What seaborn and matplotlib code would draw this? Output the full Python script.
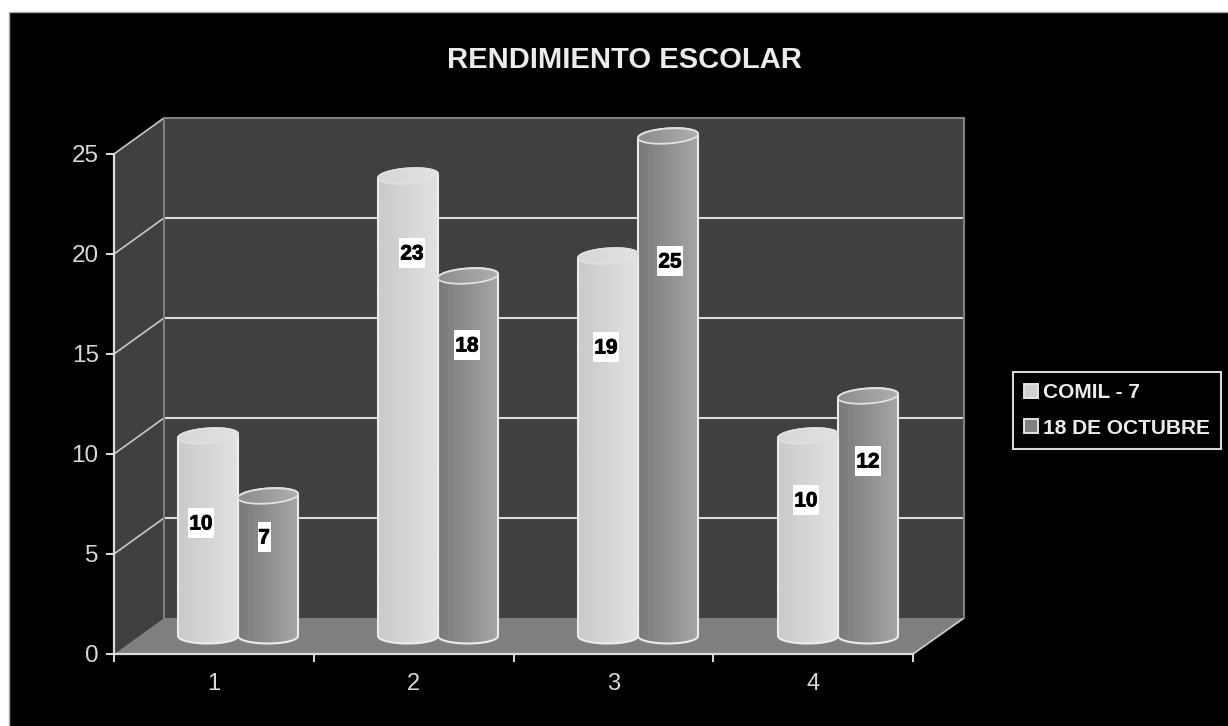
import numpy as np
import pandas as pd
import seaborn as sns
import matplotlib
matplotlib.use("Agg")
import matplotlib.pyplot as plt
import matplotlib.patheffects as pe
from matplotlib.patches import Polygon, Rectangle, Patch
from matplotlib.colors import LinearSegmentedColormap

# ---- data ----
categories = ["1", "2", "3", "4"]
comil_7 = [10, 23, 19, 10]
octubre_18 = [7, 18, 25, 12]
series_names = ["COMIL - 7", "18 DE OCTUBRE"]
title_text = "RENDIMIENTO ESCOLAR"
y_ticks = [0, 5, 10, 15, 20, 25]

# ---- layout (pixels) ----
W, H = 1228, 726
FRONT_L, FRONT_R, FRONT_B, FRONT_T = 114, 913, 654, 154
DX, DY = 50, 36
LABEL_POS = [(201, 523), (412, 253), (606, 347), (806, 500),
             (264, 537), (467, 345), (670, 261), (868, 461)]

sns.set_style("dark")
plt.rcParams["font.family"] = ["Liberation Sans", "DejaVu Sans"]

LINE = "#dcdcdc"
GREY = "#808080"
TXT = "#d8d8d8"

df = pd.DataFrame({
    "cat": categories * 2,
    "val": comil_7 + octubre_18,
    "serie": [series_names[0]] * 4 + [series_names[1]] * 4,
})

fig = plt.figure(figsize=(W / 100, H / 100), dpi=100, facecolor="white")


def box(l, r, b, t):
    return [l / W, 1 - b / H, (r - l) / W, (b - t) / H]


# background in pixel space
bg = fig.add_axes([0, 0, 1, 1], zorder=0)
bg.set_xlim(0, W)
bg.set_ylim(H, 0)
bg.axis("off")
bg.add_patch(Rectangle((9, 12), W, H, fc="black", ec="#a8a8a8", lw=1))
bg.add_patch(Polygon([(FRONT_L, FRONT_T), (FRONT_L + DX, FRONT_T - DY),
                      (FRONT_L + DX, FRONT_B - DY), (FRONT_L, FRONT_B)], fc="#404040", ec="none"))
bg.add_patch(Polygon([(FRONT_L, FRONT_B), (FRONT_R, FRONT_B),
                      (FRONT_R + DX + 1, FRONT_B - DY), (FRONT_L + DX, FRONT_B - DY)], fc="#7f7f7f", ec="none"))
unit = (FRONT_B - FRONT_T) / y_ticks[-1]
for v in y_ticks[1:]:
    y = FRONT_B - v * unit
    bg.plot([FRONT_L, FRONT_L + DX], [y, y - DY], color="#c8c8c8", lw=1.2)
bg.plot([FRONT_R, FRONT_R + DX + 1], [FRONT_B, FRONT_B - DY], color="#d0d0d0", lw=1.2)

# back wall
back = fig.add_axes(box(FRONT_L + DX, FRONT_R + DX + 1, FRONT_B - DY, FRONT_T - DY), zorder=1)
back.set_facecolor("#404040")
back.set_ylim(0, y_ticks[-1])
back.set_xlim(0, 1)
back.set_xticks([])
back.set_yticks(y_ticks[1:-1])
back.set_yticklabels([])
back.tick_params(left=False, length=0)
back.grid(axis="y", color=LINE, lw=1.5)
for name, sp in back.spines.items():
    sp.set_visible(name != "bottom")
    sp.set_color(GREY)
    sp.set_linewidth(1.5)

# front axes with the ticks
front = fig.add_axes(box(FRONT_L, FRONT_R, FRONT_B, FRONT_T), zorder=2)
front.patch.set_alpha(0)
front.set_xlim(-0.5, 3.5)
front.set_ylim(0, y_ticks[-1])
front.set_yticks(y_ticks)
front.set_xticks(range(len(categories)))
front.set_xticklabels(categories)
front.set_xticks(np.arange(-0.5, 4), minor=True)
front.tick_params(axis="y", left=True, length=6, width=1.4, color=LINE, labelcolor=TXT, labelsize=17.5, pad=5)
front.tick_params(axis="x", which="major", bottom=False, length=6, labelcolor=TXT, labelsize=17, pad=8)
front.tick_params(axis="x", which="minor", bottom=True, length=6, width=1.4, color=LINE)
front.grid(False)
for name, sp in front.spines.items():
    sp.set_visible(name in ("left", "bottom"))
    sp.set_color(LINE)
    sp.set_linewidth(1.6)

# bars, half the depth into the chart; the axes is a little taller than the value range
YLO, YHI = -1, y_ticks[-1] + 2
BASE = FRONT_B - DY / 2
bars = fig.add_axes(box(FRONT_L + DX / 2 - 1, FRONT_R + DX / 2,
                        BASE - YLO * unit, BASE - YHI * unit), zorder=3)
sns.barplot(data=df, x="cat", y="val", hue="serie", hue_order=series_names,
            palette=["#d6d6d6", "#909090"], width=0.6, gap=0, dodge=True, legend=False, ax=bars)
bars.axis("off")

RAMPS = [("#cbcbcb", "#e0e0e0", "#d6d6d6", "#e2e2e2"),
         ("#7b7b7b", "#a4a4a4", "#8e8e8e", "#adadad")]
EH = 7.5 / unit   # half height of the ellipse, in data units
SK = 2.0 / unit   # tilt of the top ellipse
t = np.linspace(0, 2 * np.pi, 73)
grad = np.linspace(0, 1, 200).reshape(1, -1)
for ramp, cont in zip(RAMPS, bars.containers):
    lo, hi, clo, chi = ramp
    cmap = LinearSegmentedColormap.from_list("body", [lo, hi], N=12)
    cmap_cap = LinearSegmentedColormap.from_list("cap", [clo, chi], N=12)
    for rect in cont:
        rect.set_visible(False)
        x0, w, h = rect.get_x(), rect.get_width(), rect.get_height()
        cx = x0 + w / 2
        tb = t[(t >= np.pi)]
        lower = np.c_[cx + w / 2 * np.cos(tb), EH * np.sin(tb)]
        top_e = np.c_[cx + w / 2 * np.cos(t), h + EH * np.sin(t) + SK * np.cos(t)]
        body = np.vstack([lower, top_e[:37]])
        poly = Polygon(body, closed=True, fc="none", ec="#ececec", lw=1.5, clip_on=False, zorder=5)
        bars.add_patch(poly)
        im = bars.imshow(grad, cmap=cmap, extent=(x0, x0 + w, -EH, h + EH + SK), aspect="auto", zorder=4)
        im.set_clip_path(poly)
        cap = Polygon(top_e, closed=True, fc="none", ec="#e0e0e0", lw=1.3, clip_on=False, zorder=7)
        bars.add_patch(cap)
        im2 = bars.imshow(grad, cmap=cmap_cap, extent=(x0, x0 + w, h - EH - SK, h + EH + SK), aspect="auto", zorder=6)
        im2.set_clip_path(cap)
bars.set_xlim(-0.5, 3.5)
bars.set_ylim(YLO, YHI)

# overlay: title, value tags, legend
over = fig.add_axes([0, 0, 1, 1], zorder=4)
over.set_xlim(0, W)
over.set_ylim(H, 0)
over.axis("off")
over.text(624, 60, title_text, ha="center", va="center", fontsize=21, fontweight="bold", color="#ececec")
values = comil_7 + octubre_18
for v, (x, y) in zip(values, LABEL_POS):
    bw = 26 if v >= 10 else 13
    over.add_patch(Rectangle((x - bw / 2, y - 15), bw, 30, fc="white", ec="none"))
    over.text(x, y + 1, str(v), ha="center", va="center", fontsize=15, fontweight="bold", color="black",
              path_effects=[pe.withStroke(linewidth=0.6, foreground="black")])

handles = [Patch(fc="#d0d0d0", ec="#e4e4e4", lw=1.4), Patch(fc="#808080", ec="#e4e4e4", lw=1.4)]
leg = over.legend(handles, series_names, loc="upper left",
                  bbox_to_anchor=(1013 / W, 1 - 372 / H), bbox_transform=fig.transFigure,
                  borderaxespad=0, frameon=True, fancybox=False, facecolor="black", edgecolor="#d8d8d8",
                  framealpha=1, handlelength=0.67, handleheight=0.67, handletextpad=0.22,
                  labelspacing=0.78, borderpad=0.55,
                  prop={"size": 15, "weight": "bold", "family": "Liberation Sans"}, labelcolor="#ececec")
leg.get_frame().set_linewidth(1.5)

fig.savefig("out.png", dpi=100, facecolor="white")
